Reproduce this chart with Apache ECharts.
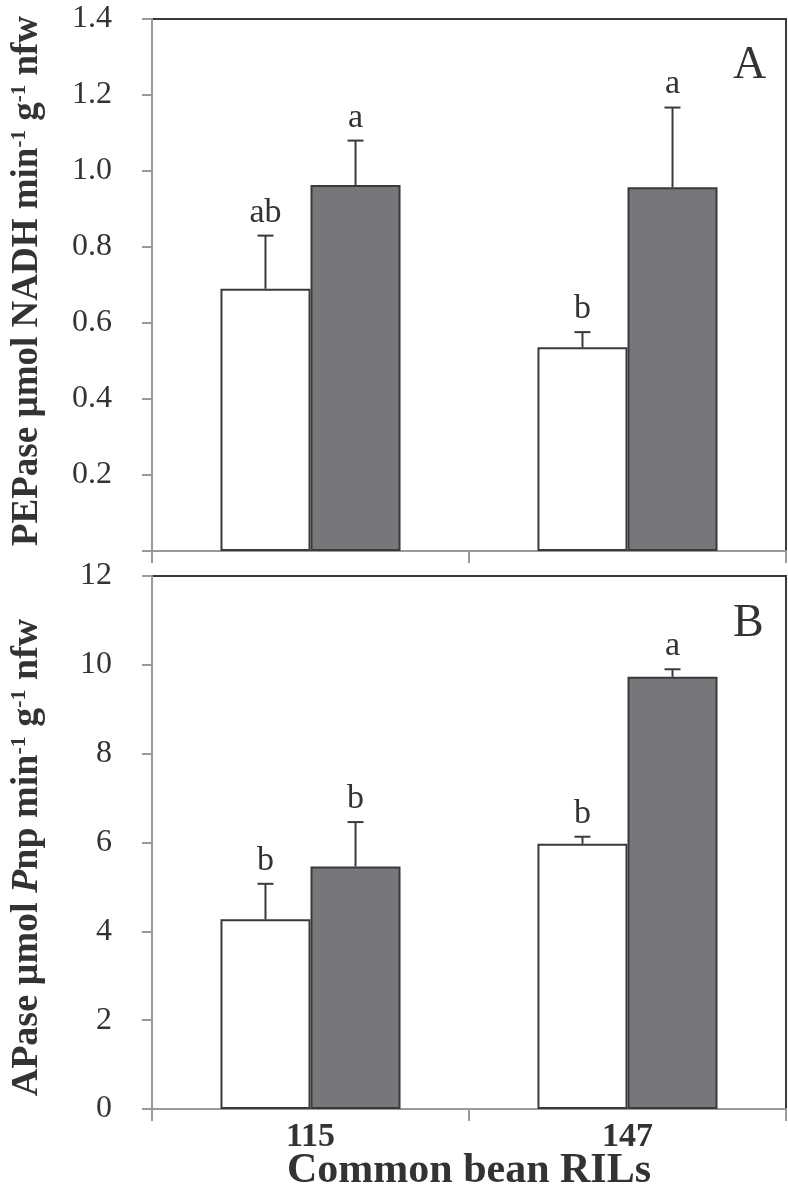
<!DOCTYPE html>
<html>
<head>
<meta charset="utf-8">
<script src="https://cdn.jsdelivr.net/npm/echarts@6/dist/echarts.min.js"></script>
<style>
html,body{margin:0;padding:0;background:#fff;}
#chart{width:788px;height:1187px;}
</style>
</head>
<body>
<div id="chart"></div>
<script>
// ---- data ----
const categories = ['115', '147'];
const seriesNames = ['Control', 'Treatment'];

// Panel A: PEPase
const pepaseWhite = [0.69, 0.536];
const pepaseWhiteErr = [0.14, 0.04];
const pepaseWhiteLetters = ['ab', 'b'];
const pepaseGrey = [0.963, 0.957];
const pepaseGreyErr = [0.117, 0.21];
const pepaseGreyLetters = ['a', 'a'];

// Panel B: APase
const apaseWhite = [4.27, 5.97];
const apaseWhiteErr = [0.80, 0.16];
const apaseWhiteLetters = ['b', 'b'];
const apaseGrey = [5.46, 9.73];
const apaseGreyErr = [1.0, 0.17];
const apaseGreyLetters = ['b', 'a'];

const panelLetters = ['A', 'B'];
const axisA = { min: 0, max: 1.4, interval: 0.2 };
const axisB = { min: 0, max: 12, interval: 2 };

// ---- styles ----
const FONT = '"Liberation Serif", "Times New Roman", serif';
const TXT = '#333333';
const AXIS_GREY = '#9a9a9a';
const BAR_EDGE = '#3a3a3a';
const GREY_FILL = '#76777b';
const BAR_W_FRAC = 0.284;

const chart = echarts.init(document.getElementById('chart'), null, { renderer: 'canvas' });

function errSeries(gridIdx, values, errs, letters, sign, name) {
  return {
    type: 'custom',
    name: name,
    xAxisIndex: gridIdx,
    yAxisIndex: gridIdx,
    z: 5,
    silent: true,
    data: values.map((v, i) => [i, v, errs[i]]),
    renderItem: function (params, api) {
      const x = api.value(0), v = api.value(1), e = api.value(2);
      const band = api.size([1, 0])[0];
      const off = sign * band * BAR_W_FRAC / 2;
      const base = api.coord([x, v]);
      const top = api.coord([x, v + e]);
      const cx = base[0] + off;
      return {
        type: 'group',
        children: [
          { type: 'line', shape: { x1: cx, y1: base[1], x2: cx, y2: top[1] },
            style: { stroke: BAR_EDGE, lineWidth: 2 } },
          { type: 'line', shape: { x1: cx - 8, y1: top[1], x2: cx + 8, y2: top[1] },
            style: { stroke: BAR_EDGE, lineWidth: 2 } },
          { type: 'text', x: cx, y: top[1] - 6,
            style: { text: letters[params.dataIndex], fill: TXT, font: '34px ' + FONT,
                     align: 'center', verticalAlign: 'bottom' } }
        ]
      };
    }
  };
}

function barSeries(gridIdx, values, fill, name) {
  return {
    type: 'bar',
    name: name,
    xAxisIndex: gridIdx,
    yAxisIndex: gridIdx,
    data: values,
    barWidth: (BAR_W_FRAC * 100) + '%',
    barGap: '0%',
    itemStyle: { color: fill, borderColor: BAR_EDGE, borderWidth: 2 },
    silent: true
  };
}

function titleRich(size) {
  return {
    b: { fontFamily: FONT, fontWeight: 'bold', fontSize: size, color: TXT },
    i: { fontFamily: FONT, fontWeight: 'bold', fontStyle: 'italic', fontSize: size, color: TXT },
    sup: { fontFamily: FONT, fontWeight: 'bold', fontSize: Math.round(size * 0.58), color: TXT, verticalAlign: 'top' }
  };
}

function yAxis(gridIdx, cfg, name, hideZero, titleSize, titlePad) {
  return {
    type: 'value',
    gridIndex: gridIdx,
    min: cfg.min, max: cfg.max, interval: cfg.interval,
    name: name,
    nameLocation: 'middle',
    nameGap: 106,
    nameMoveOverlap: false,
    nameTextStyle: { rich: titleRich(titleSize), padding: titlePad },
    axisLine: { show: true, lineStyle: { color: AXIS_GREY, width: 2 } },
    axisTick: { show: true, inside: false, length: 10, lineStyle: { color: AXIS_GREY, width: 2 } },
    splitLine: { show: false },
    axisLabel: {
      margin: 40, fontFamily: FONT, fontSize: 32, color: TXT,
      formatter: function (v) {
        if (hideZero && v === 0) return '';
        return cfg.interval < 1 ? v.toFixed(1) : String(v);
      }
    }
  };
}

function xAxis(gridIdx, showLabels) {
  return {
    type: 'category',
    gridIndex: gridIdx,
    data: categories,
    axisLine: { show: true, lineStyle: { color: AXIS_GREY, width: 2 } },
    axisTick: { show: true, inside: false, length: 12, lineStyle: { color: AXIS_GREY, width: 2 } },
    axisLabel: { show: showLabels, margin: 11, fontFamily: FONT, fontWeight: 'bold', fontSize: 34, color: TXT },
    name: showLabels ? 'Common bean RILs' : '',
    nameLocation: 'middle',
    nameGap: 41,
    nameMoveOverlap: false,
    nameTextStyle: { fontFamily: FONT, fontWeight: 'bold', fontSize: 42, color: TXT }
  };
}

const option = {
  backgroundColor: '#ffffff',
  animation: false,
  title: [
    { text: panelLetters[0], left: 728, top: 38, textStyle: { fontFamily: FONT, fontWeight: 'normal', fontSize: 46, color: TXT } },
    { text: panelLetters[1], left: 728, top: 596, textStyle: { fontFamily: FONT, fontWeight: 'normal', fontSize: 46, color: TXT } }
  ],
  grid: [
    { left: 152, right: 2, top: 19, height: 532, show: true, borderColor: BAR_EDGE, borderWidth: 2,
      backgroundColor: 'transparent', containLabel: false, outerBoundsMode: 'none' },
    { left: 152, right: 2, top: 576, height: 533, show: true, borderColor: BAR_EDGE, borderWidth: 2,
      backgroundColor: 'transparent', containLabel: false, outerBoundsMode: 'none' }
  ],
  xAxis: [xAxis(0, false), xAxis(1, true)],
  yAxis: [
    yAxis(0, axisA, '{b|PEPase µmol NADH min}{sup|-1}{b| g}{sup|-1}{b| nfw}', true, 37, [0, 0, 0, 8]),
    yAxis(1, axisB, '{b|APase µmol }{i|P}{b|np min}{sup|-1}{b| g}{sup|-1}{b| nfw}', false, 38, [0, 30, 0, 0])
  ],
  series: [
    barSeries(0, pepaseWhite, '#ffffff', seriesNames[0]),
    barSeries(0, pepaseGrey, GREY_FILL, seriesNames[1]),
    errSeries(0, pepaseWhite, pepaseWhiteErr, pepaseWhiteLetters, -1, seriesNames[0] + ' SE'),
    errSeries(0, pepaseGrey, pepaseGreyErr, pepaseGreyLetters, 1, seriesNames[1] + ' SE'),
    barSeries(1, apaseWhite, '#ffffff', seriesNames[0]),
    barSeries(1, apaseGrey, GREY_FILL, seriesNames[1]),
    errSeries(1, apaseWhite, apaseWhiteErr, apaseWhiteLetters, -1, seriesNames[0] + ' SE'),
    errSeries(1, apaseGrey, apaseGreyErr, apaseGreyLetters, 1, seriesNames[1] + ' SE')
  ]
};
chart.setOption(option);
</script>
</body>
</html>
